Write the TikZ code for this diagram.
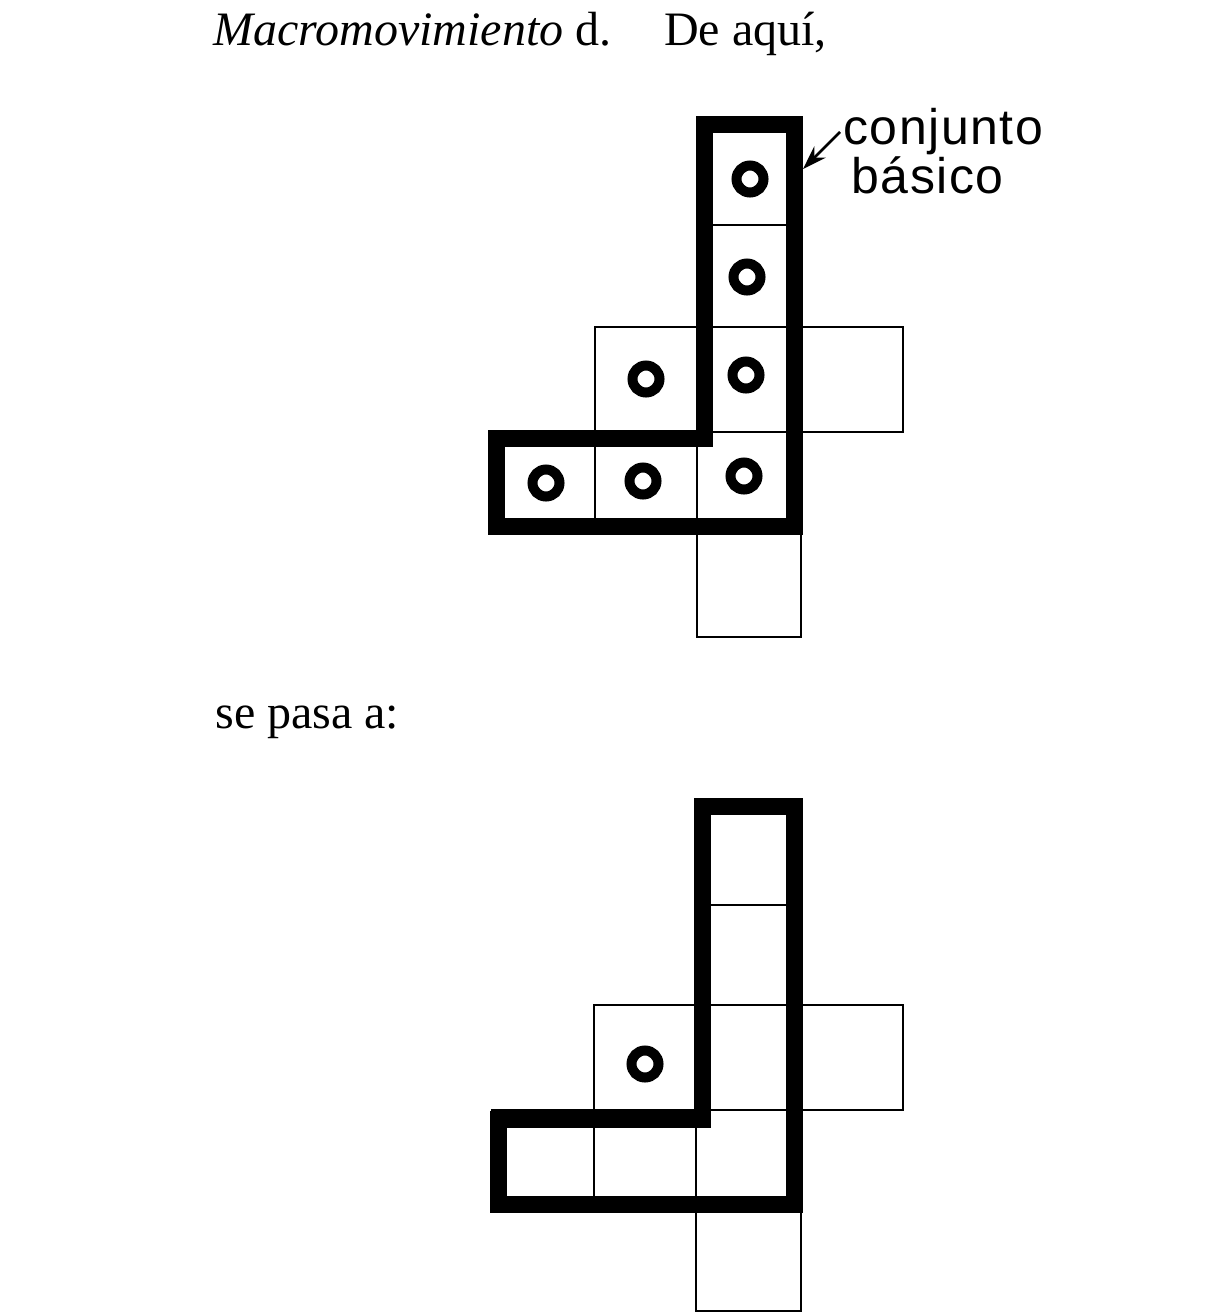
\documentclass[tikz,border=0pt]{standalone}
\usepackage{fontspec}
\setmainfont{Liberation Serif}
\newfontfamily\labelfont[LetterSpace=3]{Liberation Sans}
\usepackage{tikz}
\usetikzlibrary{arrows.meta}
\tikzset{
  textline/.style={inner sep=0pt,font=\fontsize{24}{28}\selectfont},
  labeltext/.style={inner sep=0pt,align=left,font=\labelfont\fontsize{25}{22.5}\selectfont},
  cell/.style={draw=black,line width=1.25pt},
  basic/.style={draw=black,line width=8.5pt,line join=miter},
  token/.style={draw=black,line width=5pt},
  pointer/.style={-{Stealth[length=12pt,width=8pt]},line width=1.3pt}
}

\begin{document}
\begin{tikzpicture}[x=0.5pt,y=-0.5pt]
  \useasboundingbox (0,0) rectangle (1216,1313);
  \node[textline,anchor=base west] (title) at (213,45) {\textit{Macromovimiento} d.\hspace{1.1em}De aquí,};
  % top board
  \foreach \xa/\ya/\xb/\yb in {697/120/801/225,697/225/801/327,595/327/697/432,697/327/801/432,
      801/327/903/432,493/432/595/533,595/432/697/533,697/432/801/533,697/533/801/637}
    \draw[cell] (\xa,\ya) rectangle (\xb,\yb);
  \draw[basic] (704,124) -- (794,124) -- (794,526) -- (496,526) -- (496,438) -- (704,438) -- cycle;
  \foreach \x/\y in {750/179,747/277,646/379,746/375,546/483,643/481,744/476}
    \draw[token] (\x,\y) circle[radius=6.75pt];
  \node[labeltext,anchor=north west] (basiclabel) at (843,108) {conjunto\\\hspace{4pt}básico};
  \coordinate (tip) at (803,169);
  \draw[pointer] ([xshift=-1.5pt,yshift=-12pt]basiclabel.north west) -- (tip);
  \node[textline,anchor=base west] (next) at (215,728) {se pasa a:};
  % bottom board
  \foreach \xa/\ya/\xb/\yb in {696/800/801/905,696/905/801/1005,594/1005/696/1110,696/1005/801/1110,
      801/1005/903/1110,492/1110/594/1212,594/1110/696/1212,696/1110/801/1212,696/1212/801/1311}
    \draw[cell] (\xa,\ya) rectangle (\xb,\yb);
  \draw[basic] (702,806) -- (794,806) -- (794,1204) -- (498,1204) -- (498,1119) -- (702,1119) -- cycle;
  \draw[token] (645,1064) circle[radius=6.75pt];
\end{tikzpicture}
\end{document}
